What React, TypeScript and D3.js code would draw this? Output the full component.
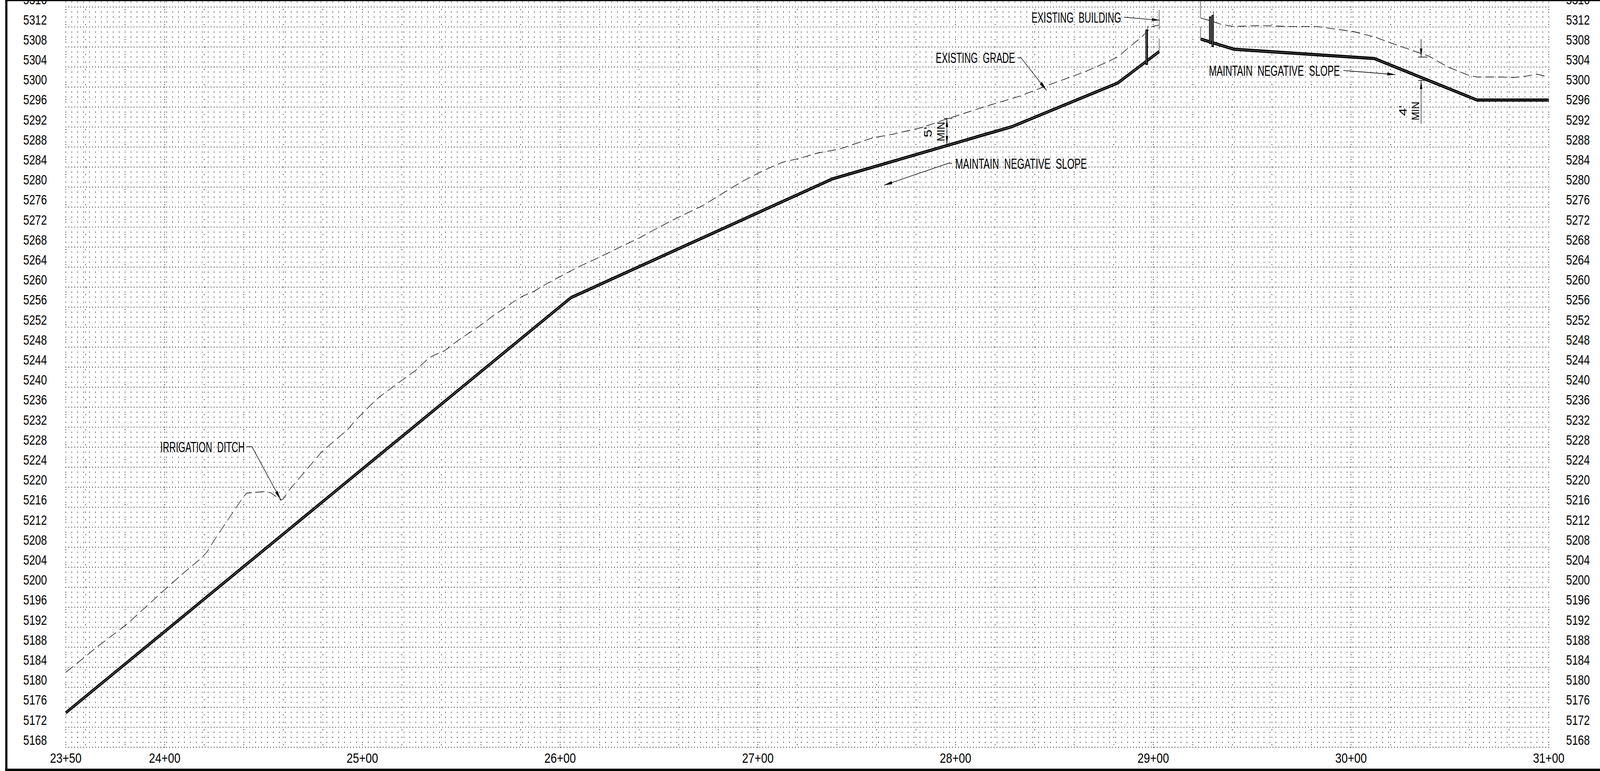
import React from "react";
import * as d3 from "d3";

// ---- data: stations in feet, elevations in feet ----
const elevationTicks = d3.range(5168, 5317, 4);
const stationTicks = [2350, 2400, 2500, 2600, 2700, 2800, 2900, 3000, 3100];
const stationLabels = ["23+50", "24+00", "25+00", "26+00", "27+00", "28+00", "29+00", "30+00", "31+00"];

const designLeft: [number, number][] = [
  [2350, 5174.9], [2605.5, 5257.9], [2737.5, 5281.6], [2828.7, 5292.1], [2882, 5300.8], [2903, 5307.1],
];
const designRight: [number, number][] = [
  [2924, 5309.6], [2940.8, 5307.55], [3011.8, 5305.7], [3063.75, 5297.4], [3100, 5297.4],
];
const gradeLeft: [number, number][] = [
  [2350, 5183], [2355.5, 5184.7], [2365.9, 5188.1], [2380.3, 5192.4], [2400.3, 5199.6], [2409.7, 5202.9],
  [2418.8, 5205.9], [2421.7, 5207.2], [2424.7, 5209.2], [2439.7, 5218], [2441.4, 5218.8], [2449.6, 5219.1],
  [2453.6, 5218.9], [2456.1, 5218.2], [2458.8, 5217.4], [2460.1, 5217.7], [2462.5, 5219.2], [2479.5, 5227.1],
  [2492.5, 5231.5], [2496.4, 5233.3], [2503.4, 5236.1], [2508.4, 5238], [2524.3, 5242.6], [2526.8, 5243.3],
  [2533.3, 5245.7], [2536.3, 5246.4], [2541.7, 5247.3], [2548.2, 5249.3], [2551.7, 5250.2], [2561.7, 5252.9],
  [2566.1, 5254.3], [2573.1, 5256.1], [2576.1, 5257], [2581.1, 5258.2], [2586.6, 5259.1], [2590.6, 5260.1],
  [2600, 5262.1], [2609, 5264], [2620, 5266], [2629.9, 5267.9], [2640.9, 5270], [2645.9, 5271.1],
  [2656.4, 5273.3], [2672.2, 5276.3], [2687, 5279.9], [2692, 5281.1], [2700.8, 5282.9], [2707.3, 5284.1],
  [2712.8, 5285], [2721.6, 5285.8], [2730.3, 5286.8], [2741.3, 5287.6], [2757.8, 5289.8], [2768.7, 5290.6],
  [2783, 5291.9], [2793.9, 5293.4], [2815.8, 5296.2], [2832.7, 5298.2], [2845.6, 5300.2], [2864.5, 5302.9],
  [2875, 5304.7], [2882.5, 5306.1], [2885.5, 5307.2], [2894.4, 5310.1], [2899.4, 5312.1], [2903, 5312.4],
];
const gradeRight: [number, number][] = [
  [2923.9, 5313.8], [2928.4, 5313.3], [2933.8, 5312.6], [2940.3, 5312.1], [2954.2, 5312.3], [2969, 5312.1],
  [2982.7, 5312.1], [3001.1, 5311.1], [3012, 5310], [3018.8, 5309], [3035.5, 5306.7], [3039.3, 5306.2],
  [3049, 5304], [3059.8, 5302.3], [3063.7, 5302], [3075.4, 5302], [3082.2, 5301.9], [3089, 5302.2],
  [3093.9, 5302.6], [3100, 5302],
];
const buildingWalls: [number, number, number][] = [
  [2903, 5315.4, 5311.5], [2903, 5309.7, 5307.1], [2923.9, 5317.2, 5313.8], [2923.9, 5312.1, 5309.4],
];
const casings: [number, number, number][] = [
  [2896.6, 5311.5, 5304.4], [2928.75, 5314.1, 5308.6], [2930, 5314.4, 5308],
];

// ---- scales ----
const x = d3.scaleLinear().domain([2350, 3100]).range([213, 5013]);
const y = d3.scaleLinear().domain([5168, 5316]).range([1912.3, 17.9]);
const line = d3.line<[number, number]>().x((d) => x(d[0])).y((d) => y(d[1]));

function dots(pts: [number, number][]) {
  return pts.map(([a, b]) => `M${x(a).toFixed(1)} ${y(b).toFixed(1)}h0`).join("");
}
function gridPath() {
  const pts: [number, number][] = [];
  for (const e of d3.range(5168, 5318)) {
    const step = (e - 5168) % 4 === 0 ? 1.5 : 3;
    for (const s of d3.range(2350, 3100.01, step)) pts.push([s, e]);
  }
  // minor dotted verticals
  for (const s of [2350, ...d3.range(2360, 3100.01, 20)]) {
    for (const e of d3.range(5168.5, 5317, 1.5)) pts.push([s, e]);
  }
  // station verticals
  for (const s of stationTicks) {
    for (const e of d3.range(5168, 5318)) pts.push([s, e]);
  }
  return dots(pts);
}

const FONT = "'Liberation Sans', Arial, sans-serif";

function Arrow({ x0, y0, x1, y1, len = 26, hw = 4.2 }: { x0: number; y0: number; x1: number; y1: number; len?: number; hw?: number }) {
  const dx = x1 - x0, dy = y1 - y0, L = Math.hypot(dx, dy), ux = dx / L, uy = dy / L;
  const bx = x1 - ux * len, by = y1 - uy * len;
  return (
    <g>
      <line x1={x0} y1={y0} x2={x1} y2={y1} stroke="#000" strokeWidth={1.6} />
      <polygon points={`${x1},${y1} ${bx - uy * hw},${by + ux * hw} ${bx + uy * hw},${by - ux * hw}`} fill="#000" />
    </g>
  );
}

function Note({ t, x0, x1, base, size = 37 }: { t: string; x0: number; x1: number; base: number; size?: number }) {
  return (
    <text x={x0} y={base} textLength={x1 - x0} lengthAdjust="spacingAndGlyphs" fontSize={size} fontFamily={FONT} fill="#000">
      {t}
    </text>
  );
}

function VText({ t, base, yMid, len, size }: { t: string; base: number; yMid: number; len: number; size: number }) {
  return (
    <text
      transform={`translate(${base},${yMid}) rotate(-90)`}
      textAnchor="middle"
      textLength={len}
      lengthAdjust="spacingAndGlyphs"
      fontSize={size}
      fontFamily={FONT}
      fill="#000"
    >
      {t}
    </text>
  );
}

export default function App() {
  return (
    <svg
      viewBox="0 0 5179 1973"
      preserveAspectRatio="none"
      style={{ position: "fixed", left: 0, top: 0, width: "100vw", height: "100vh", background: "#fff", display: "block" }}
    >
      <path d={gridPath()} stroke="#000" strokeWidth={2.4} strokeLinecap="round" fill="none" />

      {/* existing grade */}
      {[gradeLeft, gradeRight].map((g, i) => (
        <path key={i} d={line(g) ?? ""} fill="none" stroke="#111" strokeWidth={1.6} strokeDasharray="28 13" />
      ))}

      {/* building walls */}
      {buildingWalls.map(([s, a, b], i) => (
        <line key={i} x1={x(s)} x2={x(s)} y1={y(a)} y2={y(b)} stroke="#999" strokeWidth={3.5} />
      ))}

      {/* proposed profile */}
      {[designLeft, designRight].map((g, i) => (
        <g key={i}>
          <path d={line(g) ?? ""} fill="none" stroke="#000" strokeWidth={8} strokeLinejoin="round" />
          <path d={line(g) ?? ""} fill="none" stroke="#8a8a8a" strokeWidth={1.2} strokeLinejoin="round" />
        </g>
      ))}

      {/* casings */}
      {casings.map(([s, a, b], i) => (
        <g key={i}>
          <line x1={x(s)} x2={x(s)} y1={y(a)} y2={y(b)} stroke="#000" strokeWidth={7} />
          <line x1={x(s)} x2={x(s)} y1={y(a) + 3} y2={y(b) - 3} stroke="#bbb" strokeWidth={1.4} />
        </g>
      ))}
      <line x1={3715} x2={3715} y1={67} y2={166} stroke="#000" strokeWidth={1.5} />
      <line x1={3928} x2={3928} y1={29} y2={120} stroke="#000" strokeWidth={1.5} />

      {/* elevation labels, both sides */}
      {elevationTicks.map((e) => (
        <g key={e} fontFamily={FONT} fontSize={34.5} fill="#000">
          <text x={152} y={y(e) - 6.5} textAnchor="end">{e}</text>
          <text x={5146} y={y(e) - 6.5} textAnchor="end">{e}</text>
        </g>
      ))}

      {/* station labels */}
      {stationTicks.map((s, i) => (
        <text
          key={s}
          x={x(s) - 51}
          y={1951.7}
          textLength={102}
          lengthAdjust="spacingAndGlyphs"
          fontFamily={FONT}
          fontSize={35}
          fill="#000"
        >
          {stationLabels[i]}
        </text>
      ))}

      {/* notes */}
      <Note t={"EXISTING\u00a0\u00a0BUILDING"} x0={3339} x1={3629} base={58} />
      <Arrow x0={3638} y0={44} x1={3753.6} y1={51.7} len={25} hw={3.8} />

      <Note t={"EXISTING\u00a0\u00a0GRADE"} x0={3029} x1={3285} base={161} />
      <line x1={3294} y1={148} x2={3305} y2={148} stroke="#000" strokeWidth={1.6} />
      <Arrow x0={3305} y0={148} x1={3388} y1={231.7} len={27} hw={4.5} />

      <Note t={"MAINTAIN\u00a0\u00a0NEGATIVE\u00a0\u00a0SLOPE"} x0={3092} x1={3518} base={432} />
      <line x1={3082} y1={417.7} x2={3070} y2={417.7} stroke="#000" strokeWidth={1.6} />
      <Arrow x0={3070} y0={417.7} x1={2861.7} y1={474} len={26} hw={4.2} />

      <Note t={"MAINTAIN\u00a0\u00a0NEGATIVE\u00a0\u00a0SLOPE"} x0={3913} x1={4337} base={194} />
      <Arrow x0={4348.6} y0={180.3} x1={4516.6} y1={191} len={26} hw={4} />

      <Note t={"IRRIGATION\u00a0\u00a0DITCH"} x0={519} x1={792} base={1157} />
      <line x1={799.5} y1={1143} x2={815.4} y2={1143} stroke="#000" strokeWidth={1.6} />
      <Arrow x0={815.4} y0={1143} x1={909.8} y1={1280.6} len={27} hw={4.2} />

      {/* 5' MIN dimension */}
      <Arrow x0={3065} y0={340} x1={3065} y1={303.3} len={22} hw={3.8} />
      <Arrow x0={3065} y0={335} x1={3065} y1={370} len={22} hw={3.8} />
      <line x1={3055} x2={3083} y1={303.3} y2={303.3} stroke="#000" strokeWidth={1.6} />
      <VText t="MIN" base={3056.7} yMid={336.7} len={50} size={34} />
      <VText t={"5'"} base={3015.7} yMid={338} len={27} size={34} />

      {/* 4' MIN dimension */}
      <Arrow x0={4600} y0={100} x1={4600} y1={146} len={22} hw={3.8} />
      <line x1={4590} x2={4620} y1={146} y2={146} stroke="#000" strokeWidth={1.6} />
      <Arrow x0={4600} y0={316.7} x1={4600} y1={205.7} len={22} hw={3.8} />
      <line x1={4590} x2={4620} y1={205.7} y2={205.7} stroke="#000" strokeWidth={1.6} />
      <VText t="MIN" base={4593} yMid={284} len={48} size={34} />
      <VText t={"4'"} base={4553} yMid={283} len={27} size={34} />

      {/* frame */}
      <rect x={17} y={0} width={7} height={1973} fill="#000" />
      <rect x={17} y={0} width={5162} height={3} fill="#000" />
      <rect x={17} y={1967} width={5162} height={6} fill="#000" />
    </svg>
  );
}
